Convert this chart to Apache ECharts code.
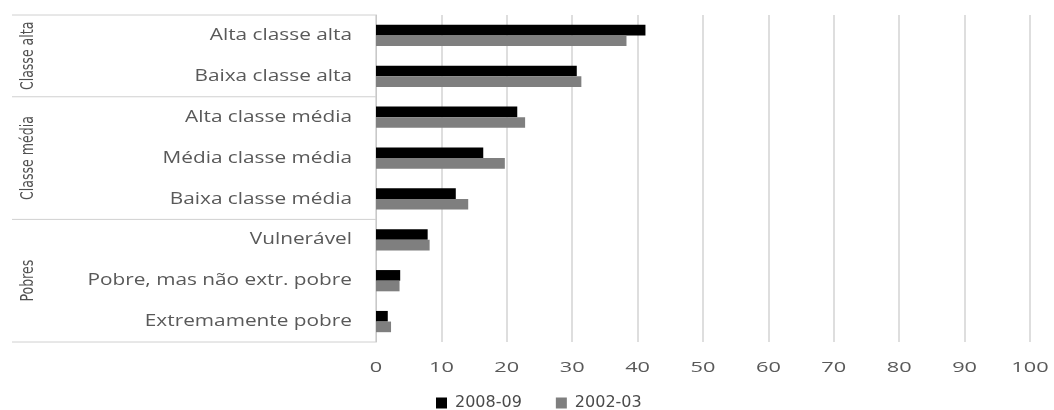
<!DOCTYPE html>
<html>
<head>
<meta charset="utf-8">
<script src="https://cdn.jsdelivr.net/npm/echarts@6/dist/echarts.min.js"></script>
<style>
  html, body { margin: 0; padding: 0; background: #fff; }
  #main { width: 1054px; height: 410px; }
</style>
</head>
<body>
<div id="main"></div>
<script>
// categorias (de cima para baixo)
var categories = ['Alta classe alta', 'Baixa classe alta', 'Alta classe média', 'Média classe média',
  'Baixa classe média', 'Vulnerável', 'Pobre, mas não extr. pobre', 'Extremamente pobre'];
var s2008 = [41.2, 30.7, 21.6, 16.4, 12.2, 7.9, 3.7, 1.8];
var s2002 = [38.3, 31.4, 22.8, 19.7, 14.1, 8.2, 3.6, 2.3];
var seriesNames = ['2008-09', '2002-03'];
var groups = ['Classe alta', 'Classe média', 'Pobres'];
var groupSizes = [2, 3, 3];
var xTicks = [0, 10, 20, 30, 40, 50, 60, 70, 80, 90, 100];

var chart = echarts.init(document.getElementById('main'));
var txt = '#595959';
var font = '"Open Sans", sans-serif';

var option = {
  animation: false,
  textStyle: { fontFamily: font },
  grid: { left: 376, right: 24, top: 15, bottom: 68 },
  legend: {
    data: seriesNames,
    left: 431, top: 390,
    itemWidth: 11, itemHeight: 11, itemGap: 34,
    icon: 'rect',
    textStyle: { color: '#4a4a4a', fontSize: 16, fontFamily: '"DejaVu Sans", sans-serif', padding: [0, 0, 0, 3] }
  },
  xAxis: {
    type: 'value',
    min: xTicks[0], max: xTicks[xTicks.length - 1], interval: 10,
    axisLine: { show: false },
    axisTick: { show: false },
    axisLabel: { show: false },
    splitLine: { show: true, lineStyle: { color: '#dedede', width: 2 } }
  },
  yAxis: {
    type: 'category',
    inverse: true,
    data: categories,
    axisLine: { show: true, lineStyle: { color: '#c8c8c8', width: 1 } },
    axisTick: { show: false },
    axisLabel: { show: false }
  },
  series: [
    { name: seriesNames[0], type: 'bar', data: s2008, barGap: '0%', barCategoryGap: '48%',
      itemStyle: { color: '#000000' } },
    { name: seriesNames[1], type: 'bar', data: s2002,
      itemStyle: { color: '#7f7f7f' } }
  ]
};
chart.setOption(option);

// rótulos (texto esticado na horizontal como no original) e eixo multinível
var c0 = chart.convertToPixel({ yAxisIndex: 0 }, 0);
var c1 = chart.convertToPixel({ yAxisIndex: 0 }, 1);
var band = c1 - c0;
var axisX = chart.convertToPixel({ xAxisIndex: 0 }, 0);
var lineLeft = 12;
var els = [];
function boundaryY(i) { return c0 - band / 2 + i * band; }

categories.forEach(function (name, i) {
  els.push({ type: 'text', x: axisX - 24, y: chart.convertToPixel({ yAxisIndex: 0 }, i), scaleX: 1.3,
    style: { text: name, fill: txt, font: '16px "Open Sans", sans-serif', align: 'right', verticalAlign: 'middle' } });
});
var xLabelY = boundaryY(categories.length) + 26;
xTicks.forEach(function (v) {
  els.push({ type: 'text', x: chart.convertToPixel({ xAxisIndex: 0 }, v), y: xLabelY, scaleX: 1.45,
    style: { text: String(v), fill: txt, font: '15px "Open Sans", sans-serif', align: 'center', verticalAlign: 'middle' } });
});

els.push({ type: 'line', shape: { x1: lineLeft, y1: boundaryY(0), x2: axisX, y2: boundaryY(0) },
  style: { stroke: '#d0d0d0', lineWidth: 1 } });
var start = 0;
groups.forEach(function (g, k) {
  var end = start + groupSizes[k];
  var yTop = boundaryY(start), yBot = boundaryY(end);
  els.push({ type: 'line', shape: { x1: lineLeft, y1: yBot, x2: axisX, y2: yBot },
    style: { stroke: '#d0d0d0', lineWidth: 1 } });
  els.push({ type: 'text', x: 29, y: (yTop + yBot) / 2, rotation: Math.PI / 2, scaleX: 0.82,
    style: { text: g, fill: '#505050', font: '17px "Liberation Sans Narrow", "DejaVu Sans Condensed", sans-serif',
      align: 'center', verticalAlign: 'middle' } });
  start = end;
});
chart.setOption({ graphic: { elements: els } });
</script>
</body>
</html>
